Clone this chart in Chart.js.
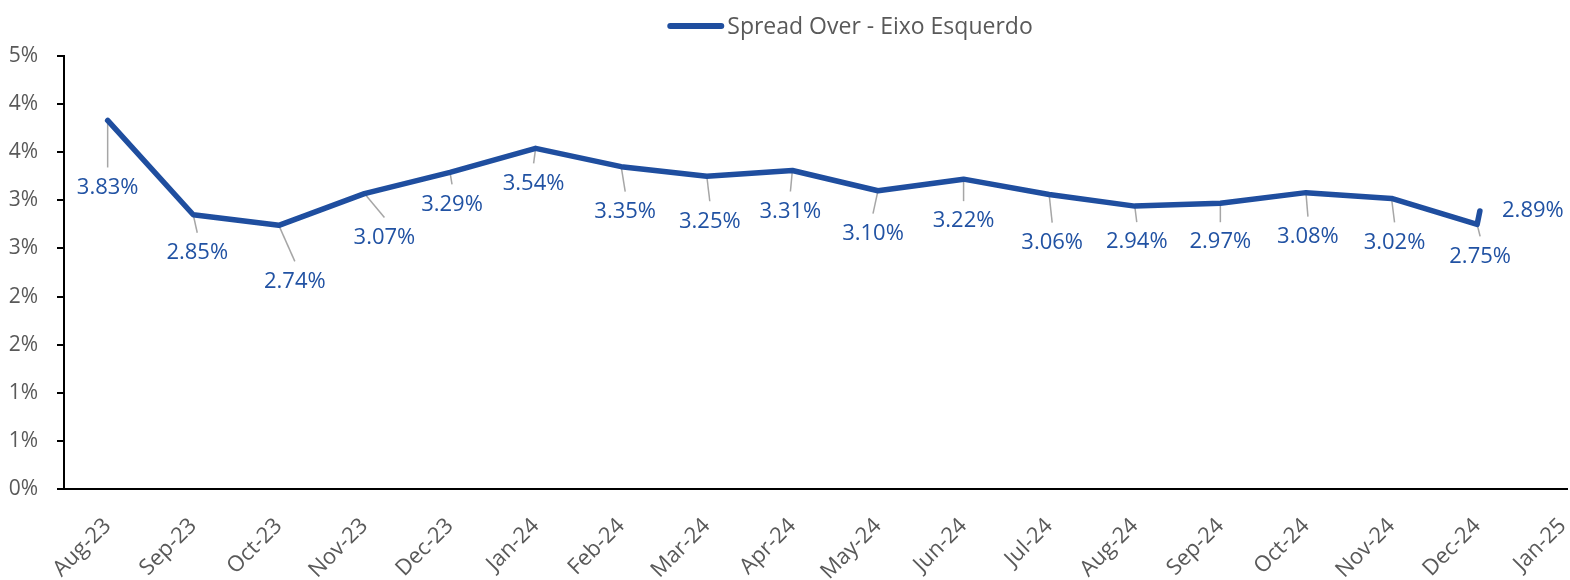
<!DOCTYPE html>
<html lang="pt-br">
<head>
<meta charset="utf-8">
<title>Spread Over - Eixo Esquerdo</title>
<script src="https://cdn.jsdelivr.net/npm/chart.js"></script>
<style>
  html, body { margin: 0; padding: 0; background: #fff; }
  #grafico { display: block; }
</style>
</head>
<body>
<canvas id="grafico" width="1570" height="580"></canvas>
<script>
    // rótulos do eixo X (início de cada mês)
    let meses = ['Aug-23', 'Sep-23', 'Oct-23', 'Nov-23', 'Dec-23', 'Jan-24', 'Feb-24', 'Mar-24', 'Apr-24',
                 'May-24', 'Jun-24', 'Jul-24', 'Aug-24', 'Sep-24', 'Oct-24', 'Nov-24', 'Dec-24', 'Jan-25'];
    // datas das observações
    let datas = ['2023-08-01', '2023-09-01', '2023-10-01', '2023-11-01', '2023-12-01', '2024-01-01',
                 '2024-02-01', '2024-03-01', '2024-04-01', '2024-05-01', '2024-06-01', '2024-07-01',
                 '2024-08-01', '2024-09-01', '2024-10-01', '2024-11-01', '2024-12-01', '2024-12-02'];
    // spread over (%)
    let spread = [3.83, 2.85, 2.74, 3.07, 3.29, 3.54, 3.35, 3.25, 3.31, 3.10, 3.22, 3.06,
                  2.94, 2.97, 3.08, 3.02, 2.75, 2.89];

    let azul = '#1F4E9F';
    let cinza = '#595959';
    let fonte = '"Open Sans", sans-serif';

    // posição (em meses) contada a partir de Aug-23
    function mesIndex(s) {
        let [a, m, d] = s.split('-').map(Number);
        let dias = new Date(a, m, 0).getDate();
        return (a - 2023) * 12 + (m - 8) + (d - 1) / dias;
    }

    let pontos = datas.map((d, i) => ({ x: mesIndex(d), y: spread[i] }));

    // deslocamento de cada rótulo em relação ao ponto (como foi arrastado no Excel)
    let desloc = [[0, 67], [4, 38], [16, 56], [20, 44], [2, 32], [-2, 35], [4, 45], [3, 45], [-2, 41],
                  [-5, 43], [0, 42], [3, 48], [2, 36], [0, 39], [2, 44], [3, 44], [3, 32], [53, 0]];

    const linhasGuia = {
        id: 'linhasGuia',
        beforeDatasetsDraw(chart) {
            let ctx = chart.ctx;
            let meta = chart.getDatasetMeta(0);
            ctx.save();
            ctx.strokeStyle = '#A6A6A6';
            ctx.lineWidth = 1.5;
            meta.data.forEach((p, i) => {
                let [dx, dy] = desloc[i];
                if (dy < 26) return;
                ctx.beginPath();
                ctx.moveTo(p.x, p.y);
                ctx.lineTo(p.x + dx, p.y + dy - 20);
                ctx.stroke();
            });
            ctx.restore();
        },
        afterDatasetsDraw(chart) {
            let ctx = chart.ctx;
            let meta = chart.getDatasetMeta(0);
            ctx.save();
            ctx.fillStyle = '#2152A3';
            ctx.font = '22px ' + fonte;
            ctx.textAlign = 'center';
            ctx.textBaseline = 'middle';
            meta.data.forEach((p, i) => {
                let [dx, dy] = desloc[i];
                ctx.fillText(spread[i].toFixed(2) + '%', p.x + dx, p.y + dy);
            });
            ctx.restore();
        },
        afterDraw(chart) {
            // legenda
            let ctx = chart.ctx;
            let texto = chart.data.datasets[0].label;
            ctx.save();
            ctx.font = '23px ' + fonte;
            let w = ctx.measureText(texto).width;
            let total = 57 + 3 + w;
            let x0 = 850 - total / 2;
            let y0 = 26;
            ctx.strokeStyle = azul;
            ctx.lineWidth = 6;
            ctx.lineCap = 'round';
            ctx.beginPath();
            ctx.moveTo(x0 + 3, y0);
            ctx.lineTo(x0 + 54, y0);
            ctx.stroke();
            ctx.fillStyle = cinza;
            ctx.textAlign = 'left';
            ctx.textBaseline = 'middle';
            ctx.fillText(texto, x0 + 60, y0 + 1);
            ctx.restore();
        }
    };

    new Chart(document.getElementById('grafico'), {
        type: 'line',
        data: {
            datasets: [{
                label: 'Spread Over - Eixo Esquerdo',
                data: pontos,
                borderColor: azul,
                borderWidth: 5.5,
                borderCapStyle: 'round',
                borderJoinStyle: 'round',
                pointRadius: 0,
                tension: 0,
                fill: false
            }]
        },
        options: {
            responsive: false,
            animation: false,
            devicePixelRatio: 1,
            layout: { padding: { top: 56, right: 3, left: 0, bottom: 0 } },
            plugins: {
                legend: { display: false },
                tooltip: { enabled: false }
            },
            scales: {
                x: {
                    type: 'linear',
                    min: -0.51,
                    max: 17.05,
                    afterBuildTicks: (scale) => { scale.ticks = meses.map((m, i) => ({ value: i })); },
                    afterFit: (scale) => { scale.height = 91; scale.paddingLeft = 0; scale.paddingRight = 0; },
                    grid: { display: false, drawTicks: false },
                    border: { display: true, color: '#000', width: 2 },
                    ticks: {
                        autoSkip: false,
                        minRotation: 45,
                        maxRotation: 45,
                        padding: 24,
                        color: cinza,
                        font: { family: fonte, size: 22 },
                        callback: (v) => meses[v]
                    }
                },
                y: {
                    min: 0,
                    max: 4.5,
                    afterFit: (scale) => { scale.width = 64; scale.paddingTop = 0; scale.paddingBottom = 0; },
                    grid: { drawOnChartArea: false, drawTicks: true, tickLength: 7, color: '#000', lineWidth: 2 },
                    border: { display: true, color: '#000', width: 2 },
                    ticks: {
                        stepSize: 0.5,
                        padding: 19,
                        color: cinza,
                        font: { family: fonte, size: 21 },
                        callback: (v) => Math.round(v) + '%'
                    }
                }
            }
        },
        plugins: [linhasGuia]
    });
</script>
</body>
</html>
